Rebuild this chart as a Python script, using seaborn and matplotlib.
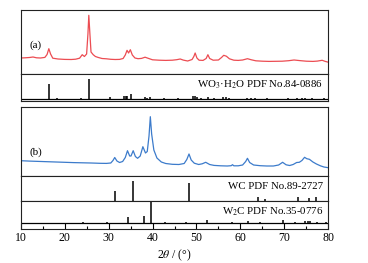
import matplotlib
matplotlib.use("Agg")
import matplotlib.pyplot as plt
import matplotlib.ticker as ticker
import seaborn as sns
import pandas as pd

# (a) WO3·H2O sample (2theta, intensity in a.u.)
two_theta_a = [10.0, 11.0, 12.0, 12.8, 13.6, 14.5, 15.5, 16.0, 16.4, 16.8, 17.3, 18.5, 20.0, 21.5,
               22.5, 23.4, 24.0, 24.5, 25.0, 25.3, 25.5, 25.75, 26.0, 26.5, 27.0, 27.6, 28.5, 29.5,
               30.5, 31.5, 32.5, 33.3, 33.8, 34.2, 34.55, 34.95, 35.4, 36.0, 36.7, 37.5, 38.3, 39.2,
               40.0, 41.5, 43.0, 44.5, 45.5, 46.3, 47.0, 48.0, 49.0, 49.4, 49.7, 50.1, 50.6, 51.5,
               52.2, 52.6, 53.0, 53.8, 55.0, 55.7, 56.2, 56.8, 57.5, 58.5, 59.5, 60.5, 61.6, 62.5,
               63.5, 65.0, 66.5, 68.0, 69.5, 71.0, 72.2, 73.5, 75.0, 76.5, 77.5, 78.6, 79.3, 80.0]
intensity_a = [16.0, 16.2, 16.5, 17.0, 16.2, 16.0, 16.6, 19.5, 25.3, 20.0, 15.8, 15.0, 14.6, 14.5,
               14.8, 15.8, 19.3, 17.5, 20.0, 40.0, 58.7, 40.0, 22.0, 19.3, 17.5, 16.6, 15.5, 15.2,
               14.7, 14.5, 14.6, 15.5, 19.0, 23.7, 21.0, 24.3, 19.0, 16.0, 15.3, 15.6, 16.8, 15.4,
               14.2, 13.8, 13.6, 13.8, 14.3, 15.0, 13.9, 13.0, 14.5, 17.5, 21.0, 16.0, 13.8, 13.6,
               15.5, 19.3, 15.5, 13.8, 14.0, 16.5, 18.7, 17.8, 15.2, 13.8, 13.6, 14.0, 15.3, 14.2,
               13.2, 12.8, 12.6, 12.7, 12.8, 13.3, 14.0, 13.4, 12.8, 12.6, 12.9, 13.7, 12.6, 11.8]

# (b) carbide sample
two_theta_b = [10.0, 12.0, 14.0, 16.0, 18.0, 20.0, 22.0, 24.0, 26.0, 28.0, 29.5, 30.5, 31.0, 31.4,
               31.9, 32.5, 33.2, 33.8, 34.3, 34.8, 35.1, 35.6, 36.1, 36.6, 37.2, 37.8, 38.4, 38.8,
               39.2, 39.5, 39.8, 40.3, 41.0, 42.0, 43.0, 44.5, 46.0, 47.2, 47.8, 48.3, 48.8, 49.5,
               50.5, 51.3, 52.1, 53.0, 54.0, 55.5, 57.0, 57.9, 58.2, 58.5, 59.5, 60.5, 61.2, 61.6,
               62.1, 63.0, 64.5, 66.0, 67.5, 68.7, 69.6, 70.4, 71.2, 72.0, 72.8, 73.4, 74.0, 74.6,
               75.1, 75.7, 76.5, 77.3, 78.2, 79.0, 80.0]
intensity_b = [15.3, 14.9, 14.6, 14.3, 14.0, 13.7, 13.4, 13.2, 13.0, 12.7, 12.6, 13.0, 15.5, 18.5,
               15.0, 13.5, 14.5, 18.5, 25.3, 20.0, 20.0, 25.3, 19.5, 17.7, 20.0, 29.3, 23.0, 24.5,
               40.0, 59.3, 42.0, 26.0, 18.0, 14.0, 12.5, 11.7, 11.5, 12.5, 16.5, 22.0, 16.0, 12.8,
               11.5, 12.2, 13.7, 11.5, 10.6, 10.2, 10.0, 10.3, 11.3, 10.2, 10.2, 11.0, 14.5, 17.7,
               13.5, 11.0, 10.3, 10.0, 10.0, 11.0, 13.7, 11.2, 10.5, 11.5, 13.5, 13.7, 15.5, 18.7,
               17.3, 16.7, 14.0, 12.0, 10.2, 9.0, 8.3]

# reference patterns (stick positions / relative heights)
wo3_pos = [16.4, 18.3, 23.7, 25.5, 30.3, 33.4, 33.9, 34.3, 35.0, 38.3, 38.8, 39.4, 42.6, 45.7,
           49.3, 49.7, 50.1, 51.0, 52.7, 53.9, 56.0, 56.8, 57.5, 61.4, 62.5, 63.3, 66.0, 70.9,
           72.8, 74.0, 74.7, 76.3, 79.0]
wo3_int = [15, 1, 1.5, 20, 2, 3, 3.5, 3, 5, 2, 1.5, 2, 1, 1,
           3, 3.5, 2.5, 1.5, 2, 1, 2, 2, 1, 1.5, 1.5, 1.5, 1, 1,
           1, 1.5, 1.5, 1, 1]

wc_pos = [31.5, 35.6, 48.3, 63.9, 65.7, 73.1, 75.5, 77.1]
wc_int = [9.7, 20, 18, 4, 1.5, 4, 2.5, 4]

w2c_pos = [24.2, 29.7, 34.5, 38.0, 39.6, 42.8, 47.6, 52.3, 58.0, 61.8, 64.5, 69.8, 72.5,
           74.8, 75.4, 75.9, 77.5, 79.5]
w2c_int = [1, 1, 6, 7, 21, 1.5, 1, 3.5, 1, 2.5, 1, 3, 1,
           2.5, 2.5, 2, 1, 1]

W, H = 368, 263
fig = plt.figure(figsize=(W / 100, H / 100), dpi=100)
plt.rcParams['font.family'] = ['Liberation Serif']
plt.rcParams['mathtext.fontset'] = 'stix'

x0, x1 = 20.7, 328.3


def panel(top, bottom):
    ax = fig.add_axes([x0 / W, 1 - bottom / H, (x1 - x0) / W, (bottom - top) / H])
    ax.set_xlim(10, 80)
    ax.tick_params(left=False, labelleft=False, bottom=False, labelbottom=False)
    for s in ax.spines.values():
        s.set_linewidth(0.8)
        s.set_color('#222222')
    return ax


ax_a = panel(10, 74)
ax_ra = panel(74, 101)
ax_b = panel(106.5, 176)
ax_wc = panel(176, 200.7)
ax_w2c = panel(200.7, 229)

df_a = pd.DataFrame({'2theta': two_theta_a, 'I': intensity_a})
df_b = pd.DataFrame({'2theta': two_theta_b, 'I': intensity_b})
sns.lineplot(data=df_a, x='2theta', y='I', ax=ax_a, color='#ec4c52', lw=0.9)
sns.lineplot(data=df_b, x='2theta', y='I', ax=ax_b, color='#3c7bcb', lw=0.9)
ax_a.set_ylim(0, 64)
ax_b.set_ylim(0, 69.5)
ax_a.text(12.0, 29, '(a)', fontsize=8, va='center')
ax_b.text(12.0, 24.3, '(b)', fontsize=8, va='center')

# stick patterns
ax_ra.vlines(wo3_pos, 0, wo3_int, color='black', lw=1.1)
ax_ra.axhline(0, color='black', lw=0.9)
ax_ra.set_ylim(-1.7, 25.3)
ax_ra.text(78.8, 14.5, 'WO$_3$·H$_2$O PDF No.84-0886', fontsize=7.8, ha='right', va='center')

ax_wc.vlines(wc_pos, 0, wc_int, color='black', lw=1.1)
ax_wc.set_ylim(0, 24.7)
ax_wc.text(78.8, 14.0, 'WC PDF No.89-2727', fontsize=7.8, ha='right', va='center')

ax_w2c.vlines(w2c_pos, 0, w2c_int, color='black', lw=1.1)
ax_w2c.axhline(0, color='black', lw=0.9)
ax_w2c.set_ylim(-5.7, 22.6)
ax_w2c.text(78.8, 12.0, 'W$_2$C PDF No.35-0776', fontsize=7.8, ha='right', va='center')

for a in (ax_a, ax_ra, ax_b, ax_wc):
    a.set_xlabel('')
    a.set_ylabel('')
ax_a.set_ylabel('')
ax_b.set_ylabel('')

ax_w2c.tick_params(bottom=True, labelbottom=True, direction='in', length=4, width=0.8,
                   labelsize=8.5, pad=2.5)
ax_w2c.tick_params(which='minor', bottom=True, direction='in', length=2.5, width=0.8)
ax_w2c.xaxis.set_major_locator(ticker.MultipleLocator(10))
ax_w2c.xaxis.set_minor_locator(ticker.MultipleLocator(5))
ax_w2c.set_xlabel(r'2$\theta$ / (°)', fontsize=8.5, labelpad=2)

fig.savefig('out.png', dpi=100)
